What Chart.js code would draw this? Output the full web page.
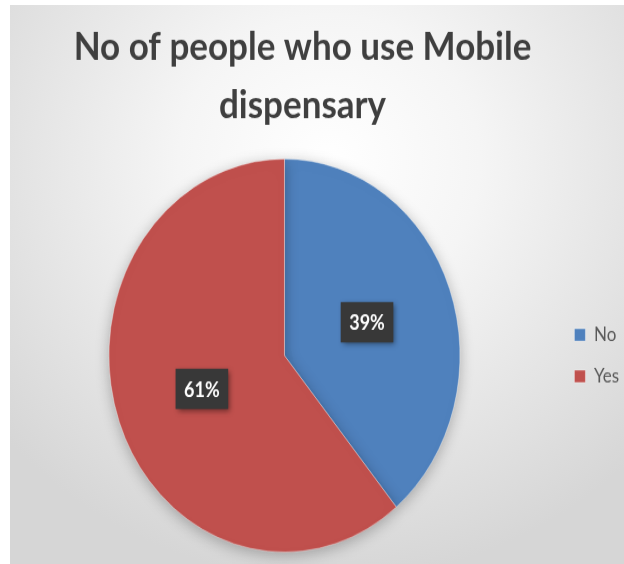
<!DOCTYPE html>
<html>
<head>
<meta charset="utf-8">
<script src="https://cdn.jsdelivr.net/npm/chart.js@4.4.1/dist/chart.umd.min.js"></script>
<style>
    html, body { margin: 0; padding: 0; background: #ffffff; }
    body { width: 624px; height: 564px; position: relative; overflow: hidden; }
    .panel {
        position: absolute; left: 10px; top: 5px; width: 614px; height: 559px; overflow: hidden;
        background: radial-gradient(ellipse 70% 75% at 52% 28%, #ffffff 0%, #f5f5f5 35%, #d6d6d6 100%);
    }
    /* the picture is a little stretched vertically, so draw at normal size and stretch */
    .stretch {
        position: absolute; left: -34px; top: 0; width: 653px; height: 499px;
        transform: scaleY(1.12); transform-origin: 0 0;
    }
</style>
</head>
<body>
<div class="panel">
    <div class="stretch"><canvas id="pieChart"></canvas></div>
</div>
<script>
const categories = ['No', 'Yes'];
const percentValues = [39, 61];
const sliceColors = ['#4f81bd', '#c0504d'];
const titleLines = ['No of people who use Mobile', 'dispensary'];

const FONT = "Lato, 'Open Sans', sans-serif";

// dark boxed percentage labels, like the office chart style
const boxLabels = {
    id: 'boxLabels',
    afterDatasetsDraw(chart) {
        const ctx = chart.ctx;
        const meta = chart.getDatasetMeta(0);
        ctx.save();
        ctx.font = 'bold 18px ' + FONT;
        ctx.textAlign = 'center';
        ctx.textBaseline = 'middle';
        meta.data.forEach((arc, i) => {
            const pos = arc.tooltipPosition();
            const text = percentValues[i] + '%';
            const w = ctx.measureText(text).width + 17;
            const h = 36;
            ctx.shadowColor = 'rgba(0,0,0,0.45)';
            ctx.shadowBlur = 5;
            ctx.shadowOffsetX = 2;
            ctx.shadowOffsetY = 2;
            ctx.fillStyle = '#383838';
            ctx.fillRect(pos.x - w / 2, pos.y - h / 2, w, h);
            ctx.shadowColor = 'transparent';
            ctx.fillStyle = '#ffffff';
            ctx.fillText(text, pos.x, pos.y + 1);
        });
        ctx.restore();
    }
};

// soft shadow round the pie
const pieShadow = {
    id: 'pieShadow',
    beforeDatasetDraw(chart) {
        const ctx = chart.ctx;
        ctx.save();
        ctx.shadowColor = 'rgba(0,0,0,0.28)';
        ctx.shadowBlur = 14;
        ctx.shadowOffsetY = 3;
    },
    afterDatasetDraw(chart) {
        chart.ctx.restore();
    }
};

new Chart(document.getElementById('pieChart').getContext('2d'), {
    type: 'pie',
    data: {
        labels: categories,
        datasets: [{
            data: percentValues,
            backgroundColor: sliceColors,
            borderColor: 'rgba(255,255,255,0.35)',
            borderWidth: 1,
            hoverOffset: 0
        }]
    },
    options: {
        responsive: true,
        maintainAspectRatio: false,
        animation: false,
        layout: { padding: { left: 0, right: 0, top: 0, bottom: 10 } },
        plugins: {
            title: {
                display: true,
                text: titleLines,
                color: '#3f3f3f',
                font: { family: FONT, size: 35, weight: 'bold', lineHeight: 52 / 35 },
                padding: { top: 12, bottom: 21 }
            },
            // empty spacer on the left so the pie sits left of the title centre
            subtitle: {
                display: true,
                position: 'left',
                fullSize: false,
                text: '',
                font: { size: 1, lineHeight: 1 },
                padding: { top: 19, bottom: 18.5 }
            },
            legend: {
                position: 'right',
                fullSize: false,
                labels: {
                    color: '#595959',
                    font: { family: FONT, size: 17 },
                    boxWidth: 11,
                    boxHeight: 11,
                    padding: 20
                }
            },
            tooltip: { enabled: false }
        }
    },
    plugins: [pieShadow, boxLabels]
});
</script>
</body>
</html>
